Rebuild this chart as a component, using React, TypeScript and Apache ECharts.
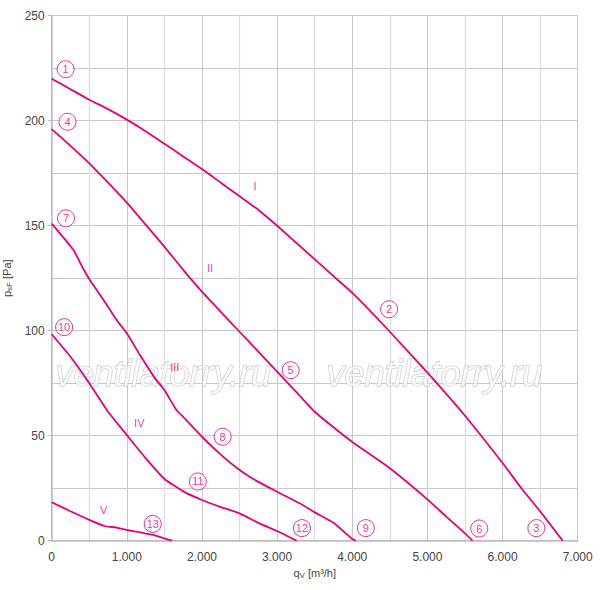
import React, { useEffect, useRef } from "react";
import * as echarts from "echarts";

const MAGENTA = "#E6007E";

const qI = [0, 250, 500, 750, 1000, 1250, 1500, 1750, 2000, 2250, 2500, 2750, 3000, 3250, 3500, 3750, 4000, 4250, 4500, 5000, 5500, 6000, 6250, 6500, 6800];
const pI = [220, 215, 210, 205.5, 200.5, 195, 189, 183, 177, 170.5, 164, 157.5, 150, 142, 134, 126, 118, 109, 99.5, 80, 59.5, 37, 25, 14, 0];

const qII = [0, 250, 500, 750, 1000, 1250, 1500, 1750, 2000, 2250, 2500, 2750, 3000, 3250, 3500, 3750, 4000, 4500, 5000, 5250, 5500, 5600];
const pII = [196, 188, 179.7, 170.5, 161, 150.5, 140, 129, 118.6, 109, 99.5, 90, 80.5, 71, 61.4, 54, 47, 34.5, 19.7, 11.5, 3.5, 0];

const qIII = [0, 290, 420, 510, 690, 865, 1000, 1175, 1375, 1500, 1660, 1750, 2000, 2250, 2500, 2750, 3000, 3300, 3500, 3750, 4000, 4050];
const pIII = [151, 138.4, 129.5, 124, 114.6, 105, 98.8, 88.4, 77.3, 71.8, 62.2, 59, 49.5, 41, 33.7, 28, 23.3, 17.8, 13.5, 8.5, 0.8, 0];

const qIV = [0, 250, 500, 750, 1000, 1250, 1500, 1750, 2000, 2250, 2500, 2750, 3000, 3260];
const pIV = [98.3, 87.6, 75, 61.4, 50.3, 39.3, 29.4, 23.5, 19.4, 16, 13, 8.5, 4.6, 0];

const qV = [0, 250, 500, 700, 850, 1000, 1200, 1350, 1500, 1605];
const pV = [18.3, 14, 9.9, 7, 6.3, 5.1, 3.8, 2.8, 1.1, 0];

const pointLabels = ["1", "4", "7", "10", "2", "5", "8", "11", "13", "12", "9", "6", "3"];
const pointQ = [185, 210, 190, 165, 4490, 3180, 2275, 1945, 1345, 3330, 4180, 5690, 6450];
const pointP = [224.5, 199.5, 153.5, 101.7, 110.2, 81.2, 49.5, 28.2, 8, 6, 6, 5.8, 6];

const romanLabels = ["I", "II", "III", "IV", "V"];
const romanQ = [2706, 2107, 1637, 1166, 692];
const romanP = [168.8, 130, 82.6, 56.2, 14.6];

const watermark = "ventilatorry.ru";

function pairs(q: number[], p: number[]) {
  return q.map((v, i) => [v, p[i]]);
}

export default function App() {
  const ref = useRef<HTMLDivElement>(null);
  useEffect(() => {
    if (!ref.current) return;
    const chart = echarts.init(ref.current, undefined, { renderer: "svg" });
    const lineSeries = [
      pairs(qI, pI),
      pairs(qII, pII),
      pairs(qIII, pIII),
      pairs(qIV, pIV),
      pairs(qV, pV),
    ].map((d) => ({
      type: "line",
      data: d,
      smooth: 0.15,
      showSymbol: false,
      symbol: "none",
      lineStyle: { color: MAGENTA, width: 1.8 },
      z: 3,
    }));
    const font = "Liberation Sans, Arial, sans-serif";
    const wm = (left: number) => ({
      type: "text",
      left,
      top: 355,
      z: 1,
      style: {
        text: watermark,
        font: "italic 36px Liberation Sans, Arial, sans-serif",
        fill: "rgba(255,255,255,0.8)",
        stroke: "#c0c0c0",
        lineWidth: 1,
      },
    });
    chart.setOption({
      animation: false,
      grid: {
        left: 51.7,
        right: 22.3,
        top: 15.7,
        bottom: 49.3,
        containLabel: false,
        outerBoundsMode: "none",
      },
      graphic: [wm(55), wm(326)],
      xAxis: {
        type: "value",
        min: 0,
        max: 7000,
        interval: 1000,
        name: "q{sub|V} [m³/h]",
        nameLocation: "middle",
        nameGap: 25,
        nameTextStyle: {
          color: "#444",
          fontSize: 11,
          fontFamily: font,
          rich: {
            sub: { fontSize: 8, color: "#444", fontFamily: font, padding: [5, 0, 0, 0] },
          },
        },
        axisLine: { show: true, lineStyle: { color: "#bbb", width: 1.5 } },
        axisTick: { show: false },
        axisLabel: {
          color: "#444",
          fontSize: 12,
          fontFamily: font,
          margin: 10,
          formatter: (v: number) => (v === 0 ? "0" : (v / 1000).toFixed(3)),
        },
        splitLine: { show: true, lineStyle: { color: "#c8c8c8", width: 1 } },
        minorTick: { show: false, splitNumber: 2 },
        minorSplitLine: { show: true, lineStyle: { color: "#dcdcdc", width: 1.2 } },
      },
      yAxis: {
        type: "value",
        min: 0,
        max: 250,
        interval: 50,
        name: "p{sub|sF} [Pa]",
        nameLocation: "middle",
        nameGap: 31,
        nameRotate: 90,
        nameTextStyle: {
          color: "#444",
          fontSize: 11,
          fontFamily: font,
          rich: {
            sub: { fontSize: 8, color: "#444", fontFamily: font, padding: [5, 0, 0, 0] },
          },
        },
        axisLine: { show: true, lineStyle: { color: "#bbb", width: 1.5 } },
        axisTick: { show: true, length: 4, lineStyle: { color: "#bbb" } },
        axisLabel: { color: "#444", fontSize: 12, fontFamily: font, margin: 7 },
        splitLine: { show: true, lineStyle: { color: "#c8c8c8", width: 1 } },
        minorTick: { show: false, splitNumber: 2 },
        minorSplitLine: { show: true, lineStyle: { color: "#c8c8c8", width: 1 } },
      },
      series: [
        ...lineSeries,
        {
          type: "scatter",
          data: pointQ.map((q, i) => [q, pointP[i], pointLabels[i]]),
          symbol: "circle",
          symbolSize: 17,
          itemStyle: { color: "#fff", borderColor: MAGENTA, borderWidth: 1 },
          label: {
            show: true,
            position: "inside",
            formatter: (p: any) => p.value[2],
            color: MAGENTA,
            fontSize: 11,
            fontFamily: font,
          },
          z: 4,
        },
        {
          type: "scatter",
          data: romanQ.map((q, i) => [q, romanP[i], romanLabels[i]]),
          symbol: "circle",
          symbolSize: 1,
          itemStyle: { color: "rgba(0,0,0,0)" },
          label: {
            show: true,
            position: "inside",
            formatter: (p: any) => p.value[2],
            color: MAGENTA,
            fontSize: 11,
            fontFamily: font,
          },
          z: 4,
        },
      ],
    });
    return () => chart.dispose();
  }, []);
  return (
    <div
      ref={ref}
      style={{ position: "absolute", left: 0, top: 0, width: 600, height: 590 }}
    />
  );
}
